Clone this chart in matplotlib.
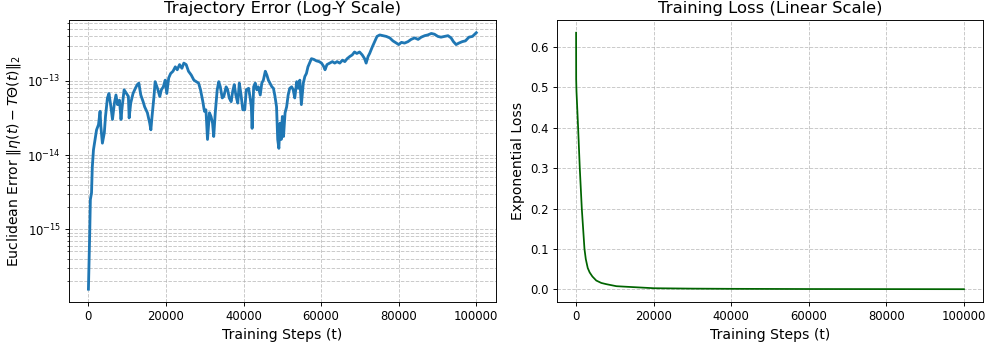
import numpy as np
import matplotlib
matplotlib.use("Agg")
import matplotlib.pyplot as plt

# Trajectory error (left): steps in thousands, log10 of error
err_steps_k = [0, 0.35, 0.5, 0.8, 1.0, 1.3, 1.7, 2.1, 2.6, 3.0, 3.2, 3.6, 4.1, 4.4, 4.9, 5.3, 5.8, 6.2,
               6.7, 7.1, 7.5, 8.0, 8.4, 8.7, 9.2, 9.8, 10.3, 10.5, 10.9, 11.5, 12.1, 12.6, 13.0, 13.5,
               14.1, 14.5, 15.2, 15.8, 16.1, 16.4, 16.9, 17.2, 17.8, 18.4, 18.8, 19.3, 19.8, 20.2,
               20.7, 21.2, 21.8, 22.4, 22.9, 23.5, 24.1, 24.6, 25.2, 25.8, 26.5, 27.2, 27.8, 28.4,
               28.9, 29.5, 29.9, 30.3, 30.7, 31.2, 31.6, 32.0, 32.3, 32.7, 33.2, 33.6, 34.0, 34.5,
               34.9, 35.5, 35.9, 36.3, 36.8, 37.2, 37.6, 38.0, 38.5, 38.9, 39.3, 39.8,
               40.3, 40.7, 41.3, 41.7, 42.0, 42.2, 42.6, 43.0, 43.4, 43.8, 44.3, 44.7, 45.1, 45.6,
               46.0, 46.4, 46.8, 47.3, 47.7, 48.1, 48.5, 48.8, 49.1, 49.4, 49.7, 50.0, 50.3, 50.7,
               51.1, 51.5, 51.9, 52.4, 52.8, 53.2, 53.7, 54.1, 54.5, 54.9, 55.4, 55.8, 56.2, 56.6,
               57.0, 57.5, 58.1, 58.8, 59.5, 60.1, 60.7, 61.0, 61.5, 62.2, 62.9, 63.5, 64.1, 64.8,
               65.5, 66.1, 66.7, 67.4, 68.0, 68.6, 69.2, 69.9, 70.6, 71.2, 71.6, 72.1, 72.5, 73.2,
               73.8, 74.4,
               75.1, 75.9, 76.8, 77.7, 78.5, 79.4, 80.0, 80.7, 81.5, 82.4, 83.2, 84.1, 85.0, 85.8,
               86.7, 87.5, 88.4, 89.2, 90.1, 90.9, 91.8, 92.7, 93.5, 94.1, 94.8, 95.5, 96.4, 97.2,
               98.1, 99.0, 100.0]
err_log10 = [-15.81, -15.01, -14.60, -14.51, -14.16, -13.93, -13.79, -13.66, -13.59, -13.41, -13.61,
             -13.84, -13.70, -13.48, -13.23, -13.17, -13.35, -13.52, -13.30, -13.19, -13.32, -13.26,
             -13.52, -13.35, -13.12, -13.17, -13.21, -13.50, -13.30, -13.17, -13.10, -13.05, -13.03,
             -13.19, -13.28, -13.35, -13.43, -13.57, -13.66, -13.48, -13.21, -13.01, -13.10, -13.21,
             -13.12, -13.08, -12.99, -13.17, -12.96, -12.90, -12.87, -12.81, -12.85, -12.78, -12.83,
             -12.76, -12.78, -12.87, -12.92, -12.99, -13.01, -13.03, -13.12, -13.28, -13.41, -13.39,
             -13.79, -13.43, -13.48, -13.57, -13.75, -13.43, -13.12, -13.01, -13.08, -13.23, -13.21,
             -13.08, -13.12, -13.23, -13.28, -13.14, -13.05, -13.19, -13.30, -13.03, -13.17, -13.39,
             -13.39, -13.12, -13.10, -13.23, -13.35, -13.64, -13.08, -13.03, -13.12, -13.08, -13.19,
             -13.03, -12.99, -12.87, -12.92, -12.99, -13.03, -13.08, -13.10, -13.21, -13.35, -13.79,
             -13.91, -13.57, -13.79, -13.48, -13.75, -13.43, -13.35, -13.19, -13.10, -13.08, -13.12,
             -13.23, -13.01, -13.10, -12.99, -13.32, -13.03, -12.94, -12.90, -12.81, -12.76, -12.70,
             -12.71, -12.73, -12.74, -12.76, -12.81, -12.85, -12.78, -12.76, -12.74, -12.76, -12.74,
             -12.76, -12.72, -12.74, -12.70, -12.67, -12.65, -12.61, -12.63, -12.61, -12.65, -12.70,
             -12.76, -12.67, -12.63, -12.54, -12.47, -12.40,
             -12.38, -12.39, -12.40, -12.42, -12.46, -12.49, -12.51, -12.48, -12.49, -12.47, -12.44,
             -12.42, -12.44, -12.41, -12.39, -12.38, -12.36, -12.37, -12.40, -12.41, -12.40, -12.39,
             -12.42, -12.47, -12.51, -12.49, -12.47, -12.46, -12.41, -12.40, -12.35]

# Training loss (right)
loss_steps = [0, 20, 100, 520, 950, 1470, 2160, 2500, 3000, 3500, 4200, 5200, 6500, 7800, 10400,
              13000, 20000, 30000, 40000, 60000, 80000, 100000]
loss_vals = [0.635, 0.52, 0.49, 0.40, 0.30, 0.20, 0.10, 0.075, 0.053, 0.042, 0.032, 0.022, 0.016,
             0.013, 0.008, 0.0066, 0.003, 0.002, 0.0015, 0.001, 0.0008, 0.0006]

assert len(err_steps_k) == len(err_log10)

DPI = 84
fig, (ax1, ax2) = plt.subplots(1, 2, figsize=(989 / DPI, 343 / DPI), dpi=DPI)
fig.subplots_adjust(left=0.0698, right=0.9943, top=0.942, bottom=0.1195, wspace=0.143)

x1 = np.array(err_steps_k) * 1000
y1 = 10 ** np.array(err_log10)
ax1.plot(x1, y1, color='#1f77b4', lw=2.4)
ax1.set_yscale('log')
ax1.set_title('Trajectory Error (Log-Y Scale)', fontsize=14)
ax1.set_xlabel('Training Steps (t)', fontsize=12)
ax1.set_ylabel(r'Euclidean Error $\|\eta(t) - T\Theta(t)\|_2$', fontsize=12)
ax1.grid(True, which='both', ls='--', alpha=0.7)

ax2.plot(loss_steps, loss_vals, color='darkgreen', lw=1.5)
ax2.set_title('Training Loss (Linear Scale)', fontsize=14)
ax2.set_xlabel('Training Steps (t)', fontsize=12)
ax2.set_ylabel('Exponential Loss', fontsize=12)
ax2.grid(True, which='both', ls='--', alpha=0.7)

for ax in (ax1, ax2):
    ax.tick_params(labelsize=10)

fig.savefig('out.png', dpi=DPI)
